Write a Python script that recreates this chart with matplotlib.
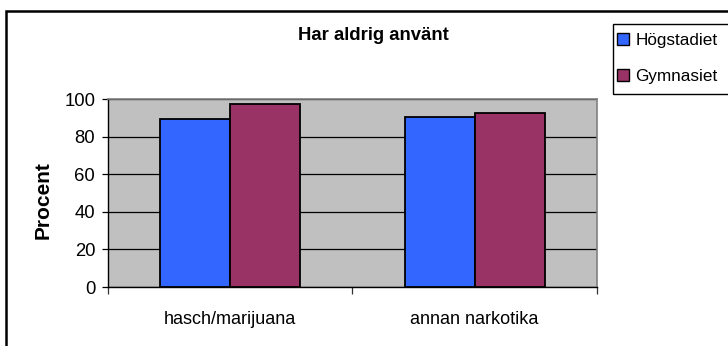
import matplotlib
matplotlib.use("Agg")
import matplotlib.pyplot as plt
from matplotlib.patches import Rectangle, Patch
import numpy as np

plt.rcParams['font.family'] = ['Liberation Sans', 'DejaVu Sans']

categories = ["hasch/marijuana", "annan narkotika"]
series_names = ["Högstadiet", "Gymnasiet"]
hogstadiet = [89.6, 90.6]
gymnasiet = [97.3, 92.5]
colors = ["#3366FF", "#993366"]

fig = plt.figure(figsize=(7.28, 3.46), dpi=100)
ax = fig.add_axes([107.7 / 728, 1 - 287 / 346, (597 - 107.7) / 728, (287 - 99) / 346])
ax.set_facecolor("#C0C0C0")

x = np.arange(len(categories)) + 0.5
w = 2 / 7
ax.bar(x - w / 2, hogstadiet, w, color=colors[0], edgecolor="black", linewidth=1.3, zorder=3)
ax.bar(x + w / 2, gymnasiet, w, color=colors[1], edgecolor="black", linewidth=1.3, zorder=3)

ax.set_xlim(0, 2)
ax.set_ylim(0, 100)
ax.set_yticks(range(0, 101, 20))
ax.yaxis.grid(True, color="black", linewidth=0.9, zorder=1)
ax.tick_params(axis="y", length=4, width=0.9, pad=5, labelsize=13.3, direction="out")

# category boundaries get ticks, labels sit between them
ax.set_xticks([0, 1, 2])
ax.set_xticklabels([])
ax.tick_params(axis="x", which="major", length=5, width=0.9, color="#333333")
ax.set_xticks(x, minor=True)
ax.set_xticklabels(categories, minor=True)
ax.tick_params(axis="x", which="minor", length=0, pad=17, labelsize=13)

for side in ("top", "right"):
    ax.spines[side].set_color("#808080")
    ax.spines[side].set_linewidth(1.2)
for side in ("left", "bottom"):
    ax.spines[side].set_color("black")
    ax.spines[side].set_linewidth(1.0)

fig.text(373 / 728, 1 - 35 / 346, "Har aldrig använt", ha="center", va="center",
         fontsize=13.3, fontweight="bold")
fig.text(42.7 / 728, 1 - 200 / 346, "Procent", ha="center", va="center",
         rotation=90, fontsize=15, fontweight="bold")

# chart border and legend border run off the right edge
fig.patches.append(Rectangle((6 / 728, -0.1), 2, 1 - 11 / 346 + 0.1,
                             transform=fig.transFigure, fill=False,
                             edgecolor="black", linewidth=1.8))
fig.patches.append(Rectangle((613 / 728, 1 - 94 / 346), 1, 70 / 346,
                             transform=fig.transFigure, fill=False,
                             edgecolor="black", linewidth=1.0))

handles = [Patch(facecolor=c, edgecolor="black", linewidth=1.0) for c in colors]
fig.legend(handles, series_names, loc="upper left",
           bbox_to_anchor=(614 / 728, 1 - 30 / 346), frameon=False,
           fontsize=12.3, handlelength=0.7, handleheight=0.7,
           handletextpad=0.35, labelspacing=1.2, borderpad=0.2,
           borderaxespad=0)

fig.savefig("out.png", dpi=100)
